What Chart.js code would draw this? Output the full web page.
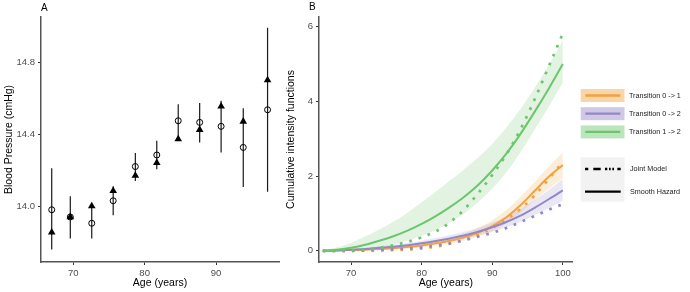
<!DOCTYPE html>
<html>
<head>
<meta charset="utf-8">
<script src="https://cdn.jsdelivr.net/npm/chart.js@4.4.1/dist/chart.umd.min.js"></script>
<style>
  body { margin: 0; background: #fff; }
  #wrap { position: relative; width: 690px; height: 292px; overflow: hidden; }
  .tag { position: absolute; font: 10px 'Liberation Sans', Arial, sans-serif; color: #000; }
  canvas { position: absolute; top: 0; }
</style>
</head>
<body>
<div id="wrap">
  <canvas id="chartA" width="290" height="292" style="left:0"></canvas>
  <canvas id="chartB" width="408" height="292" style="left:282px"></canvas>
  <div class="tag" style="left:41px;top:2px">A</div>
  <div class="tag" style="left:309px;top:1px">B</div>
</div>
<script>
// panel A : blood pressure by age
const agesA = [67.0, 69.6, 72.6, 75.6, 78.7, 81.7, 84.7, 87.7, 90.7, 93.8, 97.2]
const obsMean = [13.98, 13.94, 13.905, 14.03, 14.22, 14.284, 14.474, 14.465, 14.443, 14.326, 14.535]
const obsLower = [13.76, 13.82, 13.82, 13.95, 14.14, 14.205, 14.385, 14.354, 14.298, 14.107, 14.08]
const obsUpper = [14.21, 14.055, 13.99, 14.11, 14.295, 14.363, 14.565, 14.572, 14.585, 14.543, 14.99]
const predicted = [13.855, 13.94, 14.0, 14.085, 14.17, 14.24, 14.372, 14.424, 14.554, 14.47, 14.70]
const ticksAx = [70, 80, 90]
const ticksAy = [14.0, 14.4, 14.8]

// panel B : cumulative intensity functions
const agesB = [66, 68, 70, 72, 74, 76, 78, 80, 82, 84, 86, 88, 90, 92, 94, 96, 98, 100]
const t01Smooth = [0.00, 0.01, 0.02, 0.03, 0.05, 0.07, 0.10, 0.14, 0.20, 0.27, 0.36, 0.49, 0.66, 0.90, 1.22, 1.60, 1.98, 2.30]
const t01Hi = [0.01, 0.02, 0.04, 0.05, 0.08, 0.11, 0.15, 0.20, 0.27, 0.35, 0.46, 0.61, 0.82, 1.09, 1.44, 1.84, 2.25, 2.63]
const t01Lo = [0.00, 0.00, 0.01, 0.02, 0.03, 0.04, 0.06, 0.09, 0.14, 0.20, 0.27, 0.38, 0.52, 0.74, 1.02, 1.35, 1.66, 1.95]
const t01Joint = [0.00, 0.00, 0.00, 0.01, 0.01, 0.02, 0.03, 0.06, 0.11, 0.19, 0.30, 0.43, 0.61, 0.84, 1.12, 1.48, 1.92, 2.38]
const t02Smooth = [0.00, 0.01, 0.03, 0.05, 0.08, 0.11, 0.15, 0.20, 0.26, 0.33, 0.41, 0.51, 0.63, 0.77, 0.94, 1.15, 1.38, 1.62]
const t02Hi = [0.01, 0.03, 0.05, 0.08, 0.12, 0.16, 0.21, 0.27, 0.34, 0.42, 0.51, 0.62, 0.76, 0.92, 1.12, 1.36, 1.63, 1.92]
const t02Lo = [0.00, 0.00, 0.01, 0.03, 0.05, 0.07, 0.10, 0.14, 0.19, 0.25, 0.32, 0.41, 0.51, 0.63, 0.77, 0.95, 1.14, 1.34]
const t02Joint = [0.00, 0.00, 0.00, 0.01, 0.02, 0.04, 0.06, 0.09, 0.14, 0.20, 0.28, 0.38, 0.48, 0.61, 0.77, 0.93, 1.10, 1.25]
const t12Smooth = [0.00, 0.03, 0.08, 0.16, 0.27, 0.39, 0.54, 0.72, 0.93, 1.17, 1.44, 1.76, 2.15, 2.60, 3.13, 3.72, 4.34, 5.00]
const t12Hi = [0.01, 0.09, 0.21, 0.38, 0.57, 0.78, 1.02, 1.30, 1.58, 1.88, 2.18, 2.50, 2.86, 3.30, 3.80, 4.36, 4.97, 5.63]
const t12Lo = [0.00, 0.00, 0.01, 0.04, 0.09, 0.16, 0.27, 0.40, 0.56, 0.76, 1.00, 1.30, 1.66, 2.10, 2.64, 3.24, 3.86, 4.50]
const t12Joint = [0.00, 0.00, 0.02, 0.04, 0.08, 0.15, 0.24, 0.36, 0.52, 0.76, 1.10, 1.54, 2.03, 2.58, 3.25, 4.05, 4.93, 5.82]
const ticksBx = [70, 80, 90, 100]
const ticksBy = [0, 2, 4, 6]
const transitions = ['Transition 0 -> 1', 'Transition 0 -> 2', 'Transition 1 -> 2']
const models = ['Joint Model', 'Smooth Hazard']

const orange = '#F1A340'
const purple = '#9487C7'
const green = '#6DC56D'
const bandOrange = 'rgba(241,163,64,0.2)'
const bandPurple = 'rgba(148,135,199,0.2)'
const bandGreen = 'rgba(109,197,109,0.2)'

Chart.defaults.font.family = "'Liberation Sans', Arial, sans-serif"
Chart.defaults.animation = false

const pts = (xs, ys) => xs.map((x, i) => ({ x: x, y: ys[i] }))

// shared axis look
function axis(min, max, tickVals, title, size, fmt) {
  return {
    type: 'linear',
    min: min,
    max: max,
    afterBuildTicks: s => { s.ticks = tickVals.map(v => ({ value: v })) },
    afterFit: size,
    grid: { drawOnChartArea: false, drawTicks: true, tickLength: 3, color: '#333', tickWidth: 1 },
    border: { display: true, color: '#555', width: 1.5 },
    ticks: { color: '#4D4D4D', font: { size: 9.5 }, padding: 3, maxRotation: 0, callback: fmt },
    title: { display: true, text: title, color: '#000', font: { size: 10.5 }, padding: title.startsWith('Age') ? { top: 0, bottom: 3 } : { top: 3, bottom: 0 } }
  }
}

// error bars as broken line segments
const errPts = []
agesA.forEach((a, i) => {
  errPts.push({ x: a, y: obsLower[i] }, { x: a, y: obsUpper[i] }, { x: a, y: null })
})

const chartA = new Chart(document.getElementById('chartA'), {
  type: 'scatter',
  data: {
    datasets: [
      { data: pts(agesA, predicted), pointStyle: 'triangle', pointRadius: 4.4, backgroundColor: '#000', borderWidth: 0 },
      { data: pts(agesA, obsMean), pointStyle: 'circle', pointRadius: 3, backgroundColor: 'rgba(0,0,0,0)', borderColor: '#000', borderWidth: 1 },
      { data: errPts, showLine: true, pointRadius: 0, borderColor: '#1a1a1a', borderWidth: 1.2, spanGaps: false }
    ]
  },
  options: {
    responsive: false,
    layout: { padding: { left: 0, top: 17, right: 11, bottom: 0 } },
    plugins: { legend: { display: false }, tooltip: { enabled: false } },
    scales: {
      x: axis(65.5, 98.8, ticksAx, 'Age (years)', s => { s.height = 30 }),
      y: axis(13.69, 15.05, ticksAy, 'Blood Pressure (cmHg)', s => { s.width = 41 }, v => v.toFixed(1))
    }
  }
})

// legend for panel B, drawn in the right margin
const legendB = {
  id: 'legendB',
  afterDraw(chart) {
    const ctx = chart.ctx
    const ox = -282
    const lineCols = [orange, purple, green]
    const keyCols = ['rgba(241,163,64,0.45)', 'rgba(148,135,199,0.45)', 'rgba(109,197,109,0.45)']
    ctx.save()
    ctx.font = "7.2px 'Liberation Sans', Arial, sans-serif"
    ctx.textBaseline = 'middle'
    transitions.forEach((name, i) => {
      const y = 89 + i * 18.2
      ctx.fillStyle = keyCols[i]
      ctx.fillRect(580.7 + ox, y, 43.8, 13)
      ctx.strokeStyle = lineCols[i]
      ctx.lineWidth = 2.3
      ctx.beginPath()
      ctx.moveTo(585.3 + ox, y + 6.5)
      ctx.lineTo(620.3 + ox, y + 6.5)
      ctx.stroke()
      ctx.fillStyle = '#1a1a1a'
      ctx.fillText(name, 629 + ox, y + 6.8)
    })
    ctx.fillStyle = '#F2F2F2'
    ctx.fillRect(580.7 + ox, 157.3, 43.8, 44.4)
    ctx.strokeStyle = '#000'
    ctx.lineWidth = 2.5
    const dots = [[585, 588.3], [593.3, 600.7], [605, 607.3], [609, 610.7], [612.3, 614], [617.3, 620.7]]
    dots.forEach(d => {
      ctx.beginPath()
      ctx.moveTo(d[0] + ox, 169)
      ctx.lineTo(d[1] + ox, 169)
      ctx.stroke()
    })
    ctx.lineWidth = 2.3
    ctx.beginPath()
    ctx.moveTo(585 + ox, 191.7)
    ctx.lineTo(620.7 + ox, 191.7)
    ctx.stroke()
    ctx.fillStyle = '#1a1a1a'
    ctx.fillText(models[0], 630 + ox, 169.3)
    ctx.fillText(models[1], 630 + ox, 192)
    ctx.restore()
  }
}

const smooth = (ys, col) => ({ data: pts(agesB, ys), borderColor: col, borderWidth: 2, pointRadius: 0, fill: false, cubicInterpolationMode: 'monotone' })
const joint = (ys, col) => ({ data: pts(agesB, ys), borderColor: col, borderWidth: 2.7, borderDash: [2.7, 7], borderCapStyle: 'butt', pointRadius: 0, fill: false, cubicInterpolationMode: 'monotone' })
const bandHi = (ys, col) => ({ data: pts(agesB, ys), borderWidth: 0, borderColor: 'rgba(0,0,0,0)', backgroundColor: col, pointRadius: 0, fill: '+1', cubicInterpolationMode: 'monotone' })
const bandLo = ys => ({ data: pts(agesB, ys), borderWidth: 0, borderColor: 'rgba(0,0,0,0)', pointRadius: 0, fill: false, cubicInterpolationMode: 'monotone' })

const chartB = new Chart(document.getElementById('chartB'), {
  type: 'line',
  data: {
    datasets: [
      joint(t12Joint, green), smooth(t12Smooth, green),
      joint(t02Joint, purple), smooth(t02Smooth, purple),
      joint(t01Joint, orange), smooth(t01Smooth, orange),
      bandHi(t12Hi, bandGreen), bandLo(t12Lo),
      bandHi(t02Hi, bandPurple), bandLo(t02Lo),
      bandHi(t01Hi, bandOrange), bandLo(t01Lo)
    ]
  },
  options: {
    responsive: false,
    layout: { padding: { left: 0, top: 17, right: 117.3, bottom: 0 } },
    plugins: { legend: { display: false }, tooltip: { enabled: false }, filler: { drawTime: 'beforeDatasetsDraw' } },
    scales: {
      x: axis(65.46, 101.4, ticksBx, 'Age (years)', s => { s.height = 30 }),
      y: axis(-0.3, 6.26, ticksBy, 'Cumulative intensity functions', s => { s.width = 37 })
    }
  },
  plugins: [legendB]
})
</script>
</body>
</html>
